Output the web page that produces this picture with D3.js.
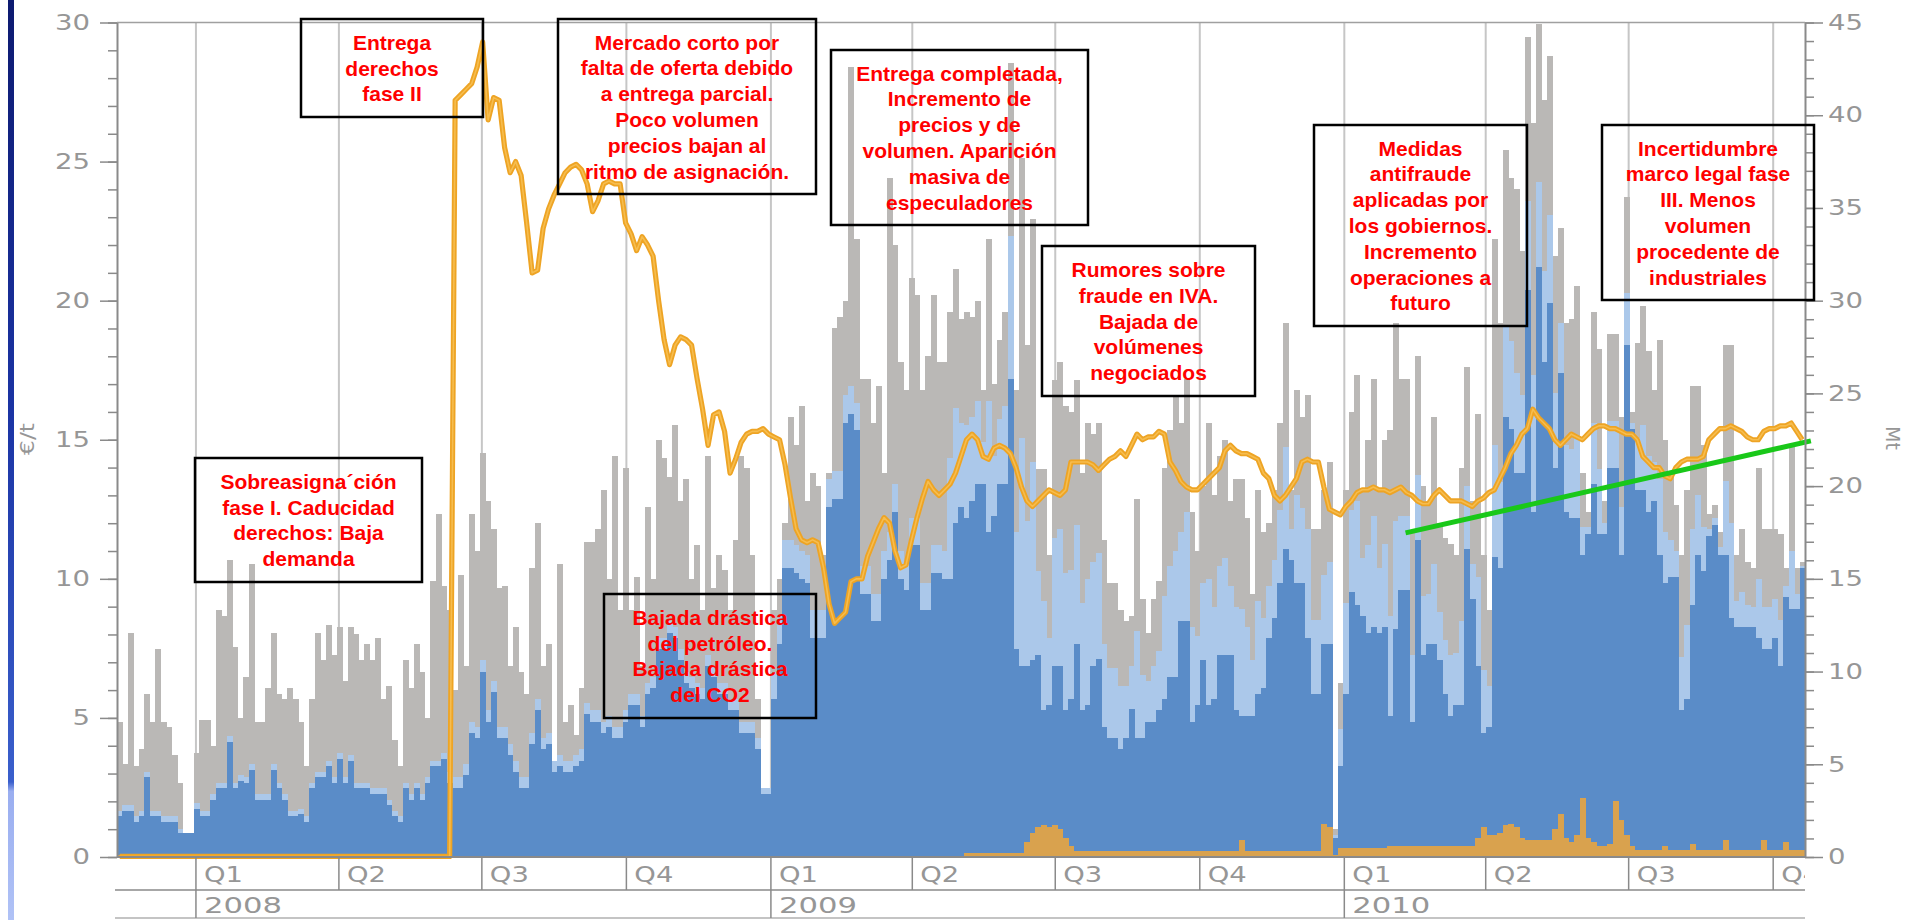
<!DOCTYPE html>
<html><head><meta charset="utf-8">
<script src="https://cdn.jsdelivr.net/npm/d3@7"></script>
<style>html,body{margin:0;padding:0;background:#fff;overflow:hidden}</style>
</head><body>
<svg id="chart" width="1919" height="920"></svg>
<script>
// ---------------- DATA ----------------
// Each value covers one period of 3.5 days, starting 11 Nov 2007
const periodStart = new Date(2007, 10, 11, 18);
const periodDays = 3.5;

// Traded volume, Mt (cumulative top of each coloured layer)
const volumeGray = [
7.3,5.0,12.1,4.9,5.8,8.8,7.3,11.2,7.3,7.0,
5.5,4.0,1.3,1.3,5.6,7.4,7.4,6.0,13.3,13.0,
16.0,11.3,7.5,9.7,15.8,7.3,7.3,9.1,12.1,8.8,
8.5,9.1,8.5,7.3,4.9,8.5,12.1,10.6,12.5,10.9,
12.4,9.5,12.4,12.0,10.6,11.5,10.6,11.8,8.5,9.2,
6.3,4.9,10.6,9.1,11.5,10.0,7.5,14.9,18.5,14.6,
13.3,9.0,15.2,10.3,18.5,16.5,21.8,19.2,17.7,14.5,
14.6,10.3,12.4,10.0,8.8,15.6,18.0,10.3,11.5,5.2,
15.8,7.3,8.2,6.6,9.1,17.0,17.0,17.7,19.8,15.0,
21.6,13.3,21.0,13.3,15.1,10.3,18.9,15.0,22.5,21.5,
20.5,23.3,19.2,20.4,15.0,16.8,13.3,21.6,14.5,16.3,
15.5,13.3,17.1,21.6,21.0,16.3,8.5,3.7,3.7,13.3,
15.0,18.0,23.7,22.2,24.3,19.2,20.7,20.0,16.3,20.7,
28.5,29.1,30.0,42.6,33.3,25.8,25.8,23.4,25.4,20.7,
36.6,33.0,26.7,25.2,31.2,30.3,25.2,27.0,30.3,26.7,
26.7,29.4,31.7,29.0,29.4,29.1,30.0,25.2,33.3,25.5,
27.9,29.4,42.8,25.2,37.7,27.6,34.4,20.9,20.9,16.3,
25.7,26.7,24.3,24.0,25.7,20.7,23.4,22.8,23.4,17.1,
14.8,14.8,13.3,12.7,13.0,19.3,13.9,12.1,13.9,14.9,
21.0,23.0,24.9,23.4,25.8,18.6,16.5,20.0,23.4,19.5,
21.6,22.5,19.2,20.4,20.4,18.3,14.2,19.8,17.5,18.0,
19.8,23.4,28.8,19.8,25.2,23.7,24.9,17.7,17.7,19.8,
21.3,1.5,9.4,19.8,24.0,26.0,19.8,22.5,25.8,19.8,
22.5,23.0,28.8,25.8,25.8,17.5,27.0,20.0,19.2,23.7,
18.0,17.2,16.9,16.3,21.0,26.4,19.2,23.9,16.3,13.3,
33.3,28.8,38.1,36.6,36.0,32.7,44.2,39.6,44.9,40.8,
43.2,32.4,33.9,28.8,29.0,30.8,20.7,18.6,29.4,27.4,
19.2,28.2,28.2,23.7,35.6,24.0,27.7,29.7,27.3,25.2,
27.9,22.5,20.7,19.0,16.3,19.8,25.4,25.4,22.2,18.5,
19.0,17.5,27.6,27.6,16.3,17.7,15.9,15.6,21.0,17.7,
17.7,17.7,17.4,15.6,22.2,15.6,15.9];

const volumeLightBlue = [
2.5,2.8,2.8,2.2,2.5,4.6,2.5,2.5,2.2,2.2,
2.2,1.5,1.3,1.3,2.9,2.5,2.5,3.4,4.0,4.0,
6.5,4.0,4.4,4.3,5.0,3.4,3.4,3.4,5.0,4.0,
3.4,2.5,2.5,2.6,2.2,4.0,4.6,4.6,5.2,4.3,
5.6,4.3,5.5,4.0,4.0,4.0,3.7,3.7,3.7,3.1,
2.5,2.2,4.0,3.4,4.0,3.4,4.3,5.2,5.2,5.6,
4.6,4.3,4.3,5.0,7.3,7.0,10.6,7.9,9.5,7.0,
7.0,6.1,5.2,4.3,4.3,6.7,8.5,6.4,6.7,5.2,
5.5,5.2,5.2,5.5,5.8,8.3,7.9,7.9,7.3,7.6,
7.0,7.0,7.9,8.8,8.8,7.6,9.4,9.7,11.8,11.8,
12.7,12.4,11.2,10.0,9.7,9.4,9.1,10.9,10.3,9.4,
9.4,8.5,8.5,7.3,7.3,7.3,6.4,3.7,3.7,10.0,
13.0,17.1,17.1,16.8,16.5,16.3,13.3,13.3,13.3,20.4,
20.8,20.8,24.9,25.4,24.5,15.7,15.7,14.2,14.2,16.5,
17.5,20.1,16.5,15.9,18.3,18.3,14.8,14.8,16.8,16.8,
16.5,21.5,24.2,23.4,23.3,23.7,24.6,22.4,24.6,21.6,
23.6,24.3,33.5,17.5,22.6,18.1,21.3,15.4,13.8,11.8,
17.2,17.7,15.3,15.5,17.9,13.7,15.0,15.9,16.4,11.5,
10.2,10.2,9.2,9.2,10.3,12.2,9.8,9.5,10.3,11.1,
14.1,15.7,16.5,17.5,18.6,12.4,11.9,14.8,15.0,13.5,
15.7,16.1,14.6,13.5,13.4,12.4,10.6,13.8,12.9,14.6,
16.0,18.7,22.1,17.7,19.5,18.8,17.7,12.8,12.8,15.2,
15.9,1.2,6.9,13.7,18.7,19.2,16.1,16.8,18.4,15.6,
16.9,13.0,18.1,18.4,18.4,10.9,20.6,14.1,14.2,15.8,
13.2,11.7,10.9,11.0,12.7,20.0,15.8,15.1,10.1,9.2,
22.2,20.2,28.7,27.8,26.1,24.9,35.4,26.0,36.4,31.6,
34.6,25.0,28.8,22.2,22.0,22.7,17.8,17.8,23.4,20.9,
18.0,23.5,23.5,18.9,30.4,23.4,22.6,23.3,21.6,21.3,
20.4,17.5,17.1,16.5,10.8,12.5,17.7,19.5,17.8,17.7,
18.3,16.7,20.3,18.0,13.8,14.3,13.6,13.5,15.0,13.5,
13.5,13.9,12.8,14.6,16.5,14.2,15.7];

const volumeBlue = [
2.2,2.5,2.5,1.9,2.2,4.3,2.2,2.2,1.9,1.9,
1.9,1.3,1.3,1.3,2.6,2.2,2.2,3.1,3.7,3.7,
6.2,3.7,4.1,4.0,4.7,3.1,3.1,3.1,4.7,3.7,
3.1,2.2,2.2,2.3,1.9,3.7,4.3,4.3,4.9,4.0,
5.3,4.0,5.2,3.7,3.7,3.7,3.4,3.4,3.4,2.8,
2.2,1.9,3.7,3.1,3.7,3.1,4.0,4.9,4.9,5.3,
4.0,3.7,3.7,4.4,6.7,6.4,10.0,7.3,8.9,6.4,
6.4,5.5,4.6,3.7,3.7,6.1,7.9,5.8,6.1,4.6,
4.9,4.6,4.6,4.9,5.2,7.7,7.3,7.3,6.7,7.0,
6.4,6.4,7.3,8.2,8.2,7.0,8.8,9.1,11.2,11.2,
12.1,11.8,10.6,9.4,9.1,8.8,8.5,10.3,9.7,8.8,
8.8,7.9,7.9,6.7,6.7,6.7,5.8,3.4,3.4,8.5,
11.5,15.6,15.6,15.3,15.0,14.8,11.8,11.8,11.8,18.9,
19.3,19.3,23.4,23.9,23.0,14.2,14.2,12.7,12.7,15.0,
16.0,18.6,15.0,14.4,16.8,16.8,13.3,13.3,15.3,15.3,
15.0,15.0,18.0,18.9,18.3,19.2,20.1,20.1,17.5,18.4,
20.1,20.1,25.8,11.2,10.3,10.3,10.6,10.9,7.9,8.2,
10.3,10.3,7.9,8.5,11.5,7.9,8.2,10.3,10.7,7.0,
6.4,6.4,5.8,6.4,8.0,6.4,6.4,7.3,7.3,7.9,
8.5,9.7,9.7,12.7,12.7,7.3,8.2,10.6,8.2,8.5,
10.9,10.9,10.9,7.9,7.6,7.6,7.6,8.8,9.1,11.8,
12.9,14.8,16.6,16.0,14.8,14.8,11.8,8.8,8.8,11.5,
11.5,1.0,4.9,8.8,14.3,13.6,13.0,12.1,12.4,12.1,
12.4,7.6,12.3,14.4,14.4,7.3,17.1,10.9,11.5,11.5,
10.6,8.8,7.6,8.2,8.2,16.6,13.9,10.3,6.7,7.0,
16.2,15.6,23.7,23.1,20.7,20.7,30.6,18.6,31.8,26.7,
29.9,21.0,26.1,18.6,18.3,18.3,16.3,17.4,20.1,17.4,
17.4,21.0,21.0,16.3,27.6,23.1,19.8,19.8,18.6,19.2,
16.3,14.8,15.1,15.1,7.9,8.5,13.6,16.3,15.4,17.3,
17.9,16.3,16.3,12.9,12.4,12.4,12.4,12.4,11.8,11.2,
11.2,11.8,10.3,14.0,13.4,13.4,15.6];

const volumeOrange = [
0.1,0.1,0.1,0.1,0.1,0.1,0.1,0.1,0.1,0.1,
0.1,0.1,0.1,0.1,0.1,0.1,0.1,0.1,0.1,0.1,
0.1,0.1,0.1,0.1,0.1,0.1,0.1,0.1,0.1,0.1,
0.1,0.1,0.1,0.1,0.1,0.1,0.1,0.1,0.1,0.1,
0.1,0.1,0.1,0.1,0.1,0.1,0.1,0.1,0.1,0.1,
0.1,0.1,0.1,0.1,0.1,0.1,0.1,0.1,0.1,0.1,
0.05,0.05,0.05,0.05,0.05,0.05,0.05,0.05,0.05,0.05,
0.05,0.05,0.05,0.05,0.05,0.05,0.05,0.05,0.05,0.05,
0.05,0.05,0.05,0.05,0.05,0.05,0.05,0.05,0.05,0.05,
0.05,0.05,0.05,0.05,0.05,0.05,0.05,0.05,0.05,0.05,
0.05,0.05,0.05,0.05,0.05,0.05,0.05,0.05,0.05,0.05,
0.05,0.05,0.05,0.05,0.05,0.05,0.05,0.05,0.05,0.05,
0.05,0.05,0.05,0.05,0.05,0.05,0.05,0.05,0.05,0.05,
0.05,0.05,0.05,0.05,0.05,0.05,0.05,0.05,0.05,0.05,
0.05,0.05,0.05,0.05,0.05,0.05,0.05,0.05,0.05,0.05,
0.05,0.05,0.05,0.05,0.2,0.2,0.2,0.2,0.2,0.2,
0.2,0.2,0.2,0.2,0.2,0.8,1.3,1.6,1.7,1.6,
1.7,1.5,1.0,0.6,0.3,0.3,0.3,0.3,0.3,0.3,
0.3,0.3,0.3,0.3,0.3,0.3,0.3,0.3,0.3,0.3,
0.3,0.3,0.3,0.3,0.3,0.3,0.3,0.3,0.3,0.3,
0.3,0.3,0.3,0.3,0.9,0.3,0.3,0.3,0.3,0.3,
0.3,0.3,0.3,0.3,0.3,0.3,0.3,0.3,0.3,1.8,
1.6,0.1,0.5,0.5,0.5,0.5,0.5,0.5,0.5,0.5,
0.5,0.6,0.6,0.6,0.6,0.6,0.6,0.6,0.6,0.6,
0.6,0.6,0.6,0.6,0.6,0.6,0.6,1.0,1.6,1.2,
1.2,1.3,1.7,1.8,1.6,1.0,0.9,0.9,0.9,0.9,
0.9,1.5,2.3,1.0,0.8,1.2,3.2,1.0,0.8,0.6,
0.6,0.7,3.0,2.0,1.2,0.6,0.4,0.4,0.4,0.4,
0.4,0.6,0.4,0.4,0.4,0.4,0.7,0.4,0.4,0.4,
0.4,0.4,0.9,0.4,0.4,0.4,0.4,0.4,0.4,0.9,
0.4,0.4,0.4,0.8,0.4,0.4,0.4];

// EUA price, €/t
const priceEUA = [
0.02,0.02,0.02,0.02,0.02,0.02,0.02,0.02,0.02,0.02,
0.02,0.02,0.02,0.02,0.02,0.02,0.02,0.02,0.02,0.02,
0.02,0.02,0.02,0.02,0.02,0.02,0.02,0.02,0.02,0.02,
0.02,0.02,0.02,0.02,0.02,0.02,0.02,0.02,0.02,0.02,
0.02,0.02,0.02,0.02,0.02,0.02,0.02,0.02,0.02,0.02,
0.02,0.02,0.02,0.02,0.02,0.02,0.02,0.02,0.02,0.02,
0.02,27.2,27.4,27.6,27.8,28.4,29.3,26.5,27.3,27.2,
25.5,24.6,25.0,24.5,22.8,21.0,21.1,22.6,23.3,23.8,
24.2,24.6,24.8,24.9,24.7,24.2,23.2,23.6,24.2,24.3,
24.2,24.2,22.8,22.4,21.8,22.3,22.0,21.6,20.0,18.6,
17.7,18.4,18.7,18.6,18.4,17.2,16.1,14.8,15.9,16.0,
15.3,13.8,14.3,14.9,15.2,15.3,15.3,15.4,15.2,15.1,
15.0,14.1,12.9,11.8,11.4,11.3,11.4,11.3,10.4,9.1,
8.4,8.6,8.8,9.9,10.0,10.0,10.8,11.3,11.8,12.2,
12.0,11.0,10.4,10.5,11.4,12.2,12.9,13.5,13.2,13.0,
13.2,13.4,13.8,14.4,15.0,15.2,15.0,14.4,14.3,14.7,
14.8,14.7,14.5,14.0,13.3,12.8,12.6,12.8,13.0,13.2,
13.1,13.0,13.2,14.2,14.2,14.2,14.2,14.1,13.9,14.1,
14.3,14.4,14.6,14.4,14.8,15.2,15.0,15.1,15.1,15.3,
15.2,14.2,13.9,13.5,13.3,13.2,13.2,13.4,13.6,13.8,
14.0,14.6,14.8,14.6,14.5,14.5,14.4,14.3,13.8,13.6,
13.0,12.8,13.0,13.3,13.6,14.2,14.3,14.2,14.2,13.3,
12.5,12.4,12.3,12.6,12.8,13.1,13.2,13.2,13.3,13.2,
13.2,13.1,13.2,13.3,13.1,13.0,12.8,12.7,12.7,13.0,
13.2,13.0,12.8,12.8,12.8,12.7,12.6,12.8,12.9,13.1,
13.2,13.6,14.0,14.5,14.8,15.2,15.4,16.1,15.8,15.6,
15.4,15.0,14.8,15.0,15.2,15.1,15.0,15.2,15.4,15.5,
15.5,15.4,15.4,15.3,15.2,15.2,15.0,14.4,14.2,14.0,
14.0,13.7,13.6,14.0,14.2,14.3,14.3,14.3,14.4,15.0,
15.2,15.4,15.4,15.5,15.4,15.3,15.1,15.0,15.0,15.3,
15.4,15.4,15.5,15.5,15.6,15.3,15.0];

const priceTicks = [0, 5, 10, 15, 20, 25, 30];
const priceMinorTicks = [0,1,2,3,4,5,6,7,8,9,10,11,12,13,14,15,16,17,18,19,20,21,22,23,24,25,26,27,28,29,30];
const volumeTicks = [0, 5, 10, 15, 20, 25, 30, 35, 40, 45];
const volumeMinorTicks = [0,1,2,3,4,5,6,7,8,9,10,11,12,13,14,15,16,17,18,19,20,21,22,23,24,25,26,27,28,29,30,31,32,33,34,35,36,37,38,39,40,41,42,43,44,45];
const quarterNames = ["Q1", "Q2", "Q3", "Q4"];
const priceLabel = "€/t";
const volumeLabel = "Mt";

// green trend line (date, €/t)
const trendDates = ["2010-02-09", "2010-10-25"];
const trendPrices = [11.65, 14.96];

// annotation texts
const annotationTexts = [
  ["Entrega", "derechos", "fase II"],
  ["Mercado corto por", "falta de oferta debido", "a entrega parcial.", "Poco volumen", "precios bajan al", "ritmo de asignación."],
  ["Entrega completada,", "Incremento de", "precios y de", "volumen. Aparición", "masiva de", "especuladores"],
  ["Rumores sobre", "fraude en IVA.", "Bajada de", "volúmenes", "negociados"],
  ["Medidas", "antifraude", "aplicadas por", "los gobiernos.", "Incremento", "operaciones a", "futuro"],
  ["Incertidumbre", "marco legal fase", "III. Menos", "volumen", "procedente de", "industriales"],
  ["Sobreasigna´ción", "fase I. Caducidad", "derechos: Baja", "demanda"],
  ["Bajada drástica", "del petróleo.", "Bajada drástica", "del CO2"]
];

// ---------------- LAYOUT ----------------
const plot = {left: 117, right: 1805, top: 22.5, bottom: 857};
const annotationBoxes = [ // [x0, y0, x1, y1] in px
  [301, 19, 483, 117],
  [558, 19, 816, 194],
  [831, 50, 1088, 225],
  [1042, 246, 1255, 396],
  [1314, 125, 1527, 326],
  [1602, 125, 1814, 300],
  [195, 458, 422, 582],
  [604, 594, 816, 718]
];
const axisFont = "'DejaVu Sans', sans-serif";
const axisColor = "#969696";

const svg = d3.select("#chart");
const defs = svg.append("defs");

// left slide edge
const grad = defs.append("linearGradient").attr("id", "edge").attr("x1", 0).attr("y1", 0).attr("x2", 0).attr("y2", 1);
[["0%", "#0d1a70"], ["45%", "#1b34a4"], ["85%", "#3a5fcc"], ["86%", "#9aaef0"], ["100%", "#b0c2f6"]]
  .forEach(([o, c]) => grad.append("stop").attr("offset", o).attr("stop-color", c));
svg.append("rect").attr("x", 8).attr("y", 0).attr("width", 6).attr("height", 920).attr("fill", "url(#edge)");

defs.append("clipPath").attr("id", "plotClipX").append("rect")
  .attr("x", 0).attr("y", 0).attr("width", plot.right).attr("height", 920);

const n = volumeGray.length;
const dayMs = 864e5;
const periodDate = i => new Date(periodStart.getTime() + i * periodDays * dayMs);
const x = d3.scaleTime().domain([periodDate(0), periodDate(n)]).range([plot.left, plot.right]);
const yP = d3.scaleLinear().domain([0, 30]).range([plot.bottom, plot.top]);
const yV = d3.scaleLinear().domain([0, 45]).range([plot.bottom, plot.top]);

// quarter gridlines
const quarterStarts = d3.timeMonth.every(3).range(new Date(2008, 0, 1), periodDate(n));
svg.append("g").selectAll("line").data(quarterStarts).join("line")
  .attr("x1", d => x(d)).attr("x2", d => x(d))
  .attr("y1", plot.top).attr("y2", plot.bottom)
  .attr("stroke", "#c6c6c6").attr("stroke-width", 2);

// volume bars
const layers = [
  [volumeGray, "#bab8b6"],
  [volumeLightBlue, "#abc8ea"],
  [volumeBlue, "#5a8cc8"],
  [volumeOrange, "#d9a24e"]
];
const barG = svg.append("g").attr("shape-rendering", "crispEdges");
layers.forEach(([vals, col]) => {
  barG.append("g").selectAll("rect").data(vals).join("rect")
    .attr("x", (d, i) => x(periodDate(i)))
    .attr("width", (d, i) => x(periodDate(i + 1)) - x(periodDate(i)) + 0.5)
    .attr("y", d => yV(d))
    .attr("height", d => yV(0) - yV(d))
    .attr("fill", col);
});

// price line
const priceLine = d3.line()
  .x((d, i) => x(new Date(periodDate(i).getTime() + periodDays * dayMs / 2)))
  .y(d => yP(d));
svg.append("path").datum(priceEUA).attr("d", priceLine)
  .attr("fill", "none").attr("stroke", "#eea424").attr("stroke-width", 5.2)
  .attr("stroke-linejoin", "round");
svg.append("path").datum(priceEUA).attr("d", priceLine)
  .attr("fill", "none").attr("stroke", "#f7c35a").attr("stroke-width", 1.6)
  .attr("stroke-linejoin", "round").attr("opacity", 0.8);

// green trend line
svg.append("line")
  .attr("x1", x(new Date(trendDates[0] + "T00:00"))).attr("y1", yP(trendPrices[0]))
  .attr("x2", x(new Date(trendDates[1] + "T00:00"))).attr("y2", yP(trendPrices[1]))
  .attr("stroke", "#19c819").attr("stroke-width", 5);

// frame: top border and bottom axis line
svg.append("line").attr("x1", plot.left).attr("x2", plot.right).attr("y1", plot.top).attr("y2", plot.top)
  .attr("stroke", "#a0a0a0").attr("stroke-width", 1.5);
svg.append("line").attr("x1", plot.left).attr("x2", plot.right).attr("y1", plot.bottom).attr("y2", plot.bottom)
  .attr("stroke", "#8a8a8a").attr("stroke-width", 2);

function styleAxis(g, perChar) {
  g.selectAll(".domain").attr("stroke", "#8a8a8a").attr("stroke-width", 2);
  g.selectAll(".tick line").attr("stroke", "#8a8a8a").attr("stroke-width", 1.5);
  g.selectAll(".tick text")
    .attr("fill", axisColor).attr("font-family", axisFont).attr("font-size", 21)
    .attr("textLength", d => String(d).length * perChar).attr("lengthAdjust", "spacingAndGlyphs");
}
// left axis
const gLm = svg.append("g").attr("transform", `translate(${plot.left},0)`)
  .call(d3.axisLeft(yP).tickValues(priceMinorTicks).tickSize(9).tickSizeOuter(0).tickFormat(""));
gLm.select(".domain").remove();
gLm.selectAll(".tick line").attr("stroke", "#8a8a8a").attr("stroke-width", 1.5);
const gL = svg.append("g").attr("transform", `translate(${plot.left},0)`)
  .call(d3.axisLeft(yP).tickValues(priceTicks).tickSize(17).tickSizeOuter(0).tickPadding(10));
styleAxis(gL, 17.5);
// right axis
const gRm = svg.append("g").attr("transform", `translate(${plot.right},0)`)
  .call(d3.axisRight(yV).tickValues(volumeMinorTicks).tickSize(9).tickSizeOuter(0).tickFormat(""));
gRm.select(".domain").remove();
gRm.selectAll(".tick line").attr("stroke", "#8a8a8a").attr("stroke-width", 1.5);
const gR = svg.append("g").attr("transform", `translate(${plot.right},0)`)
  .call(d3.axisRight(yV).tickValues(volumeTicks).tickSize(18).tickSizeOuter(0).tickPadding(5));
styleAxis(gR, 17.5);

// axis titles
svg.append("text").attr("transform", "translate(34,439) rotate(-90)")
  .attr("text-anchor", "middle").attr("font-family", axisFont).attr("font-size", 20)
  .attr("fill", axisColor).attr("textLength", 32).attr("lengthAdjust", "spacingAndGlyphs").text(priceLabel);
svg.append("text").attr("transform", "translate(1886,438) rotate(90)")
  .attr("text-anchor", "middle").attr("font-family", axisFont).attr("font-size", 20)
  .attr("fill", axisColor).attr("textLength", 24).attr("lengthAdjust", "spacingAndGlyphs").text(volumeLabel);

// time axis rows
const rowQ = 890, rowY = 918;
const tg = svg.append("g");
tg.append("line").attr("x1", 115).attr("x2", plot.right).attr("y1", rowQ).attr("y2", rowQ)
  .attr("stroke", "#8a8a8a").attr("stroke-width", 1.5);
tg.append("line").attr("x1", 115).attr("x2", plot.right).attr("y1", rowY).attr("y2", rowY)
  .attr("stroke", "#b0b0b0").attr("stroke-width", 1.5);
tg.selectAll(".qsep").data(quarterStarts).join("line").attr("class", "qsep")
  .attr("x1", d => x(d)).attr("x2", d => x(d)).attr("y1", plot.bottom).attr("y2", rowQ)
  .attr("stroke", "#8a8a8a").attr("stroke-width", 1.5);
const qText = tg.append("g").attr("clip-path", "url(#plotClipX)");
qText.selectAll("text").data(quarterStarts).join("text")
  .attr("x", d => x(d) + 8).attr("y", 882)
  .attr("font-family", axisFont).attr("font-size", 21).attr("fill", axisColor)
  .attr("textLength", 39).attr("lengthAdjust", "spacingAndGlyphs")
  .text(d => quarterNames[Math.floor(d.getMonth() / 3)]);
const yearStarts = d3.timeYear.range(new Date(2008, 0, 1), periodDate(n));
tg.selectAll(".ysep").data(yearStarts).join("line").attr("class", "ysep")
  .attr("x1", d => x(d)).attr("x2", d => x(d)).attr("y1", rowQ).attr("y2", rowY)
  .attr("stroke", "#8a8a8a").attr("stroke-width", 1.5);
tg.selectAll(".ylab").data(yearStarts).join("text").attr("class", "ylab")
  .attr("x", d => x(d) + 8).attr("y", 913)
  .attr("font-family", axisFont).attr("font-size", 21).attr("fill", axisColor)
  .attr("textLength", 78).attr("lengthAdjust", "spacingAndGlyphs")
  .text(d => d.getFullYear());

// annotation boxes
const ag = svg.append("g");
annotationTexts.forEach((lines, k) => {
  const [x0, y0, x1, y1] = annotationBoxes[k];
  ag.append("rect").attr("x", x0).attr("y", y0).attr("width", x1 - x0).attr("height", y1 - y0)
    .attr("fill", "none").attr("stroke", "#000").attr("stroke-width", 2.5);
  const cx = (x0 + x1) / 2, cy = (y0 + y1) / 2, lh = 25.8;
  const t = ag.append("text").attr("text-anchor", "middle")
    .attr("font-family", "'Liberation Sans', Arial, sans-serif").attr("font-weight", "bold")
    .attr("font-size", 21).attr("fill", "#ff0000");
  lines.forEach((ln, j) => {
    t.append("tspan").attr("x", cx).attr("y", cy + (j - (lines.length - 1) / 2) * lh)
      .attr("dy", "0.36em").text(ln);
  });
});
</script>
</body></html>
